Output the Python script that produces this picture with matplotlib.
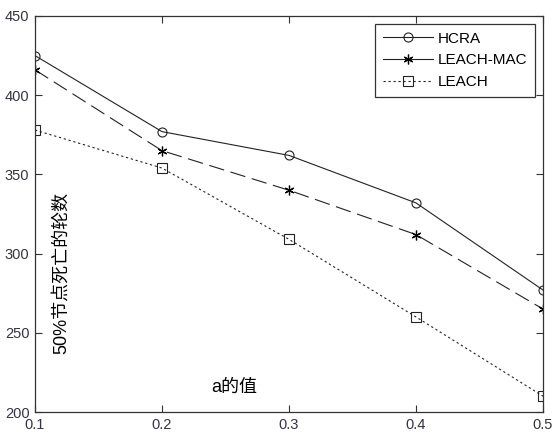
import matplotlib
matplotlib.use('Agg')
import matplotlib.pyplot as plt

plt.rcParams['font.family'] = ['Liberation Sans', 'Noto Sans CJK SC', 'DejaVu Sans']

a_vals = [0.1, 0.2, 0.3, 0.4, 0.5]
hcra = [425, 377, 362, 332, 277]
leach_mac = [416, 365, 340, 312, 265]
leach = [378, 354, 309, 260, 210]
xticks = [0.1, 0.2, 0.3, 0.4, 0.5]
yticks = [200, 250, 300, 350, 400, 450]

fig = plt.figure(figsize=(5.53, 4.32), dpi=100)
ax = fig.add_axes([35 / 553, 20 / 432, 508 / 553, 396 / 432])

lc = '#222222'
ax.plot(a_vals, hcra, color=lc, lw=0.8, marker='o', ms=6.5, mfc='none',
        mec=lc, mew=0.8, label='HCRA')
ax.plot(a_vals, leach_mac, color=lc, lw=0.8, dashes=(14, 6), marker=(6, 2, 0),
        ms=7, mec='black', mew=0.9, label='LEACH-MAC')
ax.plot(a_vals, leach, color=lc, lw=0.8, dashes=(2, 2.5), marker='s', ms=7,
        mfc='none', mec=lc, mew=0.8, label='LEACH')

ax.set_xlim(0.1, 0.5)
ax.set_ylim(200, 450)
ax.set_xticks(xticks)
ax.set_xticklabels([f'{v:.1f}' for v in xticks])
ax.set_yticks(yticks)
ax.tick_params(direction='in', length=5, width=0.8, top=True, right=True,
               labelsize=10.5, labelcolor='#333344', color='#333333', pad=4)
for sp in ax.spines.values():
    sp.set_color('#333333')
    sp.set_linewidth(0.9)

# labels sit inside the axes as in the original figure
ax.text(0.052, 0.35, '50%节点死亡的轮数', transform=ax.transAxes, rotation=90,
        ha='center', va='center', fontsize=13)
ax.text(0.393, 0.063, 'a的值', transform=ax.transAxes, ha='center',
        va='center', fontsize=13)

leg = ax.legend(loc='upper right', bbox_to_anchor=(0.9843, 0.9798), fancybox=False,
                edgecolor='#333333', framealpha=1, fontsize=11,
                handlelength=3.3, borderpad=0.5, labelspacing=0.5,
                handletextpad=0.3, borderaxespad=0)
leg.get_frame().set_linewidth(0.9)
leg.get_lines()[1].set_linestyle('-')

fig.savefig('out.png', dpi=100)
